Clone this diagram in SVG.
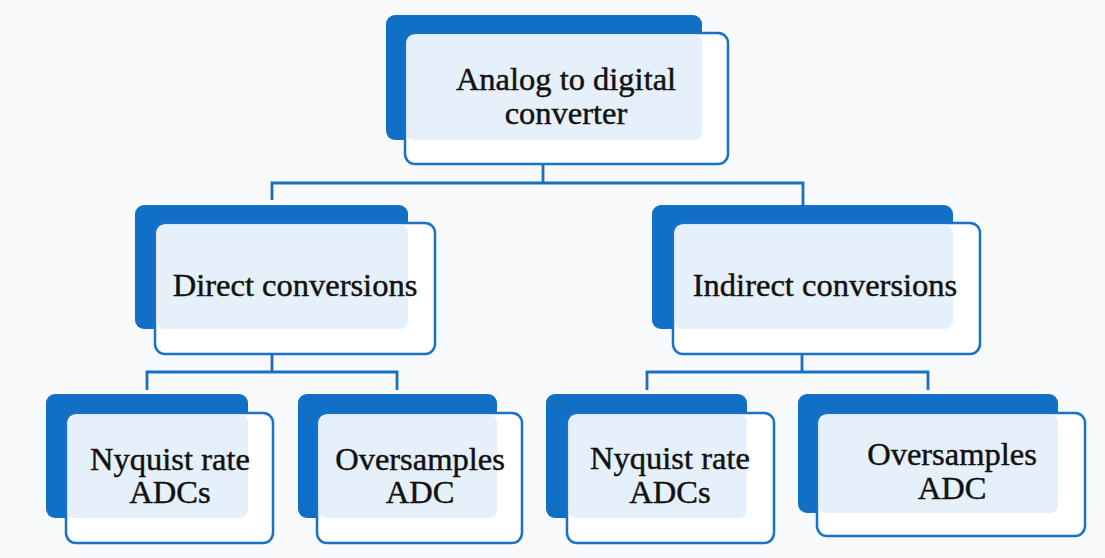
<svg xmlns="http://www.w3.org/2000/svg" width="1105" height="558" viewBox="0 0 1105 558">
  <style>
    .back { fill: #116fc5; }
    .front { fill: #ffffff; stroke: #1a72c6; stroke-width: 2.5; }
    .overlap { fill: #e6f0fa; }
    .label { font-family: "Liberation Serif", "Times New Roman", serif; font-size: 32.5px; fill: #111111; stroke: #111111; stroke-width: 0.45; text-anchor: middle; }
    .wire { fill: none; stroke: #1a6fc4; stroke-width: 2.8; }
    .wire-faint { fill: none; stroke: #c9dcf0; stroke-width: 2; }
  </style>
  <rect x="0" y="0" width="1105" height="558" fill="#f8f9fa"/>

  <!-- connectors -->
  <g id="connectors">
    <line class="wire-faint" x1="543" y1="145" x2="543" y2="163"/>
    <path class="wire" d="M543 165 V183 M272 200 V183 H803 V205"/>
    <line class="wire-faint" x1="272" y1="335" x2="272" y2="353"/>
    <path class="wire" d="M272 355 V372 M147 390 V372 H397 V390"/>
    <line class="wire-faint" x1="802" y1="335" x2="802" y2="353"/>
    <path class="wire" d="M802 355 V372 M647 390 V372 H928 V390"/>
  </g>

  <!-- root -->
  <g id="node-adc">
    <rect class="back" x="386" y="15" width="316" height="125" rx="9"/>
    <rect class="front" x="405" y="33" width="323" height="131" rx="10"/>
    <rect class="overlap" x="406.5" y="34.5" width="295.5" height="105.5" rx="8"/>
    <text class="label" x="566" y="90">Analog to digital</text>
    <text class="label" x="566" y="124">converter</text>
  </g>

  <!-- second level -->
  <g id="node-direct">
    <rect class="back" x="135" y="205" width="273" height="124" rx="9"/>
    <rect class="front" x="155" y="223" width="280" height="131" rx="10"/>
    <rect class="overlap" x="156.5" y="224.5" width="251.5" height="104.5" rx="8"/>
    <text class="label" x="295" y="296">Direct conversions</text>
  </g>

  <g id="node-indirect">
    <rect class="back" x="652" y="205" width="301" height="124" rx="9"/>
    <rect class="front" x="673" y="223" width="307" height="131" rx="10"/>
    <rect class="overlap" x="674.5" y="224.5" width="278.5" height="104.5" rx="8"/>
    <text class="label" x="825" y="296">Indirect conversions</text>
  </g>

  <!-- third level -->
  <g id="node-nyquist-direct">
    <rect class="back" x="46" y="394" width="202" height="124" rx="9"/>
    <rect class="front" x="66" y="413" width="207" height="130" rx="10"/>
    <rect class="overlap" x="67.5" y="414.5" width="180.5" height="103.5" rx="8"/>
    <text class="label" x="170" y="470">Nyquist rate</text>
    <text class="label" x="170" y="503">ADCs</text>
  </g>

  <g id="node-oversample-direct">
    <rect class="back" x="298" y="394" width="199" height="124" rx="9"/>
    <rect class="front" x="317" y="413" width="205" height="130" rx="10"/>
    <rect class="overlap" x="318.5" y="414.5" width="178.5" height="103.5" rx="8"/>
    <text class="label" x="420" y="470">Oversamples</text>
    <text class="label" x="420" y="503">ADC</text>
  </g>

  <g id="node-nyquist-indirect">
    <rect class="back" x="546" y="394" width="201" height="124" rx="9"/>
    <rect class="front" x="567" y="413" width="207" height="130" rx="10"/>
    <rect class="overlap" x="568.5" y="414.5" width="178.5" height="103.5" rx="8"/>
    <text class="label" x="670" y="469">Nyquist rate</text>
    <text class="label" x="670" y="503">ADCs</text>
  </g>

  <g id="node-oversample-indirect">
    <rect class="back" x="798" y="394" width="260" height="119" rx="9"/>
    <rect class="front" x="817" y="413" width="268" height="123" rx="10"/>
    <rect class="overlap" x="818.5" y="414.5" width="239.5" height="98.5" rx="8"/>
    <text class="label" x="952" y="465">Oversamples</text>
    <text class="label" x="952" y="499">ADC</text>
  </g>
</svg>
